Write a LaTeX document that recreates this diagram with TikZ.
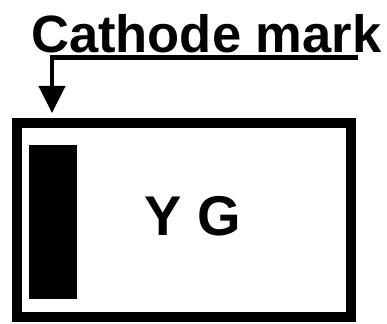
\documentclass[tikz,border=0pt]{standalone}
\usepackage{fontspec}
\setmainfont{Liberation Sans}
\usetikzlibrary{arrows.meta}
\begin{document}
\begin{tikzpicture}[x=1pt,y=-1pt,
  lbl/.style={inner sep=0pt,font=\fontsize{52.5}{60}\selectfont\bfseries},
  codetxt/.style={inner sep=0pt,font=\fontsize{56}{64}\selectfont\bfseries},
  lead/.style={line width=4.5pt,-{Triangle[width=26pt,length=27pt]}}]
\useasboundingbox (0,0) rectangle (387,323);
\node[lbl,anchor=base west] (title) at (31,53) {Cathode mark};
\node[draw,line width=10pt,minimum width=334pt,minimum height=194pt,inner sep=0pt] (chip) at (184,220) {};
\node[fill=black,minimum width=48pt,minimum height=154pt,inner sep=0pt] (bar) at (53,222) {};
\node[codetxt] (yg) at (193,216) {Y G};
\coordinate (start) at (358,57.5);
\coordinate (bend) at (52,57.5);
\coordinate (tip) at (52,113);
\draw[lead] (start) -- (bend) -- (tip);
\end{tikzpicture}
\end{document}
